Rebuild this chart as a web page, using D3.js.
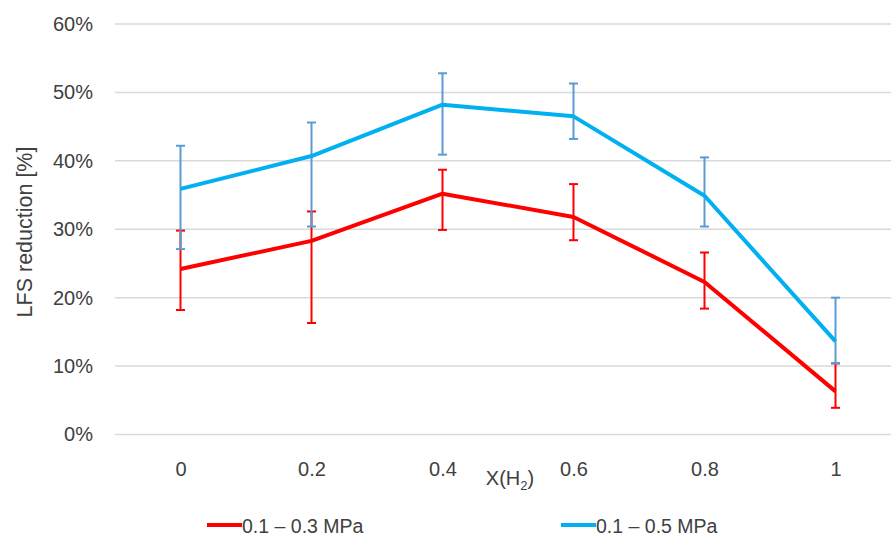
<!DOCTYPE html>
<html>
<head>
<meta charset="utf-8">
<script src="https://cdn.jsdelivr.net/npm/d3@7"></script>
<style>
  html, body { margin: 0; padding: 0; background: #fff; }
  svg { display: block; font-family: "Liberation Sans", "DejaVu Sans", sans-serif; }
</style>
</head>
<body>
<svg id="chart" width="891" height="537"></svg>
<script>
// Hydrogen fraction categories
const categories = ["0", "0.2", "0.4", "0.6", "0.8", "1"];
const yTicks = [0, 0.1, 0.2, 0.3, 0.4, 0.5, 0.6];

// 0.1 – 0.3 MPa series: mean and error-bar bounds
const lowMean  = [0.242, 0.283, 0.352, 0.318, 0.223, 0.063];
const lowUpper = [0.298, 0.326, 0.387, 0.366, 0.266, 0.104];
const lowLower = [0.182, 0.163, 0.299, 0.284, 0.184, 0.039];

// 0.1 – 0.5 MPa series: mean and error-bar bounds
const highMean  = [0.359, 0.407, 0.482, 0.465, 0.349, 0.136];
const highUpper = [0.422, 0.456, 0.528, 0.513, 0.405, 0.200];
const highLower = [0.271, 0.304, 0.409, 0.432, 0.304, 0.104];

const seriesNames = ["0.1 \u2013 0.3 MPa", "0.1 \u2013 0.5 MPa"];

const series = [
  { name: seriesNames[0], mean: lowMean, upper: lowUpper, lower: lowLower,
    line: "#ff0000", bar: "#ff0000" },
  { name: seriesNames[1], mean: highMean, upper: highUpper, lower: highLower,
    line: "#00b0f0", bar: "#5b9bd5" }
];

const svg = d3.select("#chart");
const textColor = "#404040";

const x = d3.scalePoint().domain(categories).range([115, 901]).padding(0.5);
const y = d3.scaleLinear().domain([0, 0.6]).range([434.5, 24]);

// Horizontal gridlines
svg.append("g")
  .selectAll("line")
  .data(yTicks)
  .join("line")
  .attr("x1", 115).attr("x2", 891)
  .attr("y1", d => y(d)).attr("y2", d => y(d))
  .attr("stroke", "#d9d9d9")
  .attr("stroke-width", 1.5);

// Y axis labels
const yAxis = d3.axisLeft(y).tickValues(yTicks).tickFormat(d3.format(".0%")).tickSize(0).tickPadding(0);
svg.append("g")
  .attr("transform", "translate(93,0)")
  .call(yAxis)
  .call(g => g.select(".domain").remove())
  .call(g => g.selectAll("text")
    .attr("fill", textColor)
    .attr("font-size", 20)
    .attr("font-family", "Liberation Sans, sans-serif"));

// X axis labels
const xAxis = d3.axisBottom(x).tickSize(0).tickPadding(0);
svg.append("g")
  .attr("transform", "translate(0,462)")
  .call(xAxis)
  .call(g => g.select(".domain").remove())
  .call(g => g.selectAll("text")
    .attr("fill", textColor)
    .attr("font-size", 20)
    .attr("font-family", "Liberation Sans, sans-serif"));

// Axis titles
svg.append("text")
  .attr("transform", "translate(32,232) rotate(-90)")
  .attr("text-anchor", "middle")
  .attr("fill", textColor)
  .attr("font-size", 21.5)
  .text("LFS reduction [%]");

const xt = svg.append("text")
  .attr("x", 510).attr("y", 485)
  .attr("text-anchor", "middle")
  .attr("fill", textColor)
  .attr("font-size", 20);
xt.append("tspan").text("X(H");
xt.append("tspan").attr("font-size", 13).attr("dy", 5).text("2");
xt.append("tspan").attr("dy", -5).text(")");

// Error bars and lines
const line = d3.line().x((d, i) => x(categories[i])).y(d => y(d));
const cap = 4.5;

series.forEach(s => {
  const g = svg.append("g");
  const idx = d3.range(categories.length);
  g.selectAll("line.stem")
    .data(idx).join("line").attr("class", "stem")
    .attr("x1", i => x(categories[i])).attr("x2", i => x(categories[i]))
    .attr("y1", i => y(s.upper[i])).attr("y2", i => y(s.lower[i]))
    .attr("stroke", s.bar).attr("stroke-width", 2);
  ["upper", "lower"].forEach(k => {
    g.selectAll("line.cap-" + k)
      .data(idx).join("line").attr("class", "cap-" + k)
      .attr("x1", i => x(categories[i]) - cap).attr("x2", i => x(categories[i]) + cap)
      .attr("y1", i => y(s[k][i])).attr("y2", i => y(s[k][i]))
      .attr("stroke", s.bar).attr("stroke-width", 2);
  });
  g.append("path")
    .datum(s.mean)
    .attr("d", line)
    .attr("fill", "none")
    .attr("stroke", s.line)
    .attr("stroke-width", 4)
    .attr("stroke-linejoin", "round");
});

// Legend
const legendX = [207, 561];
series.forEach((s, i) => {
  const g = svg.append("g").attr("transform", `translate(${legendX[i]},525)`);
  g.append("line").attr("x1", 0).attr("x2", 35).attr("y1", 0).attr("y2", 0)
    .attr("stroke", s.line).attr("stroke-width", 4);
  g.append("text").attr("x", 35).attr("y", 7.5)
    .attr("fill", textColor).attr("font-size", 19.5)
    .text(s.name);
});
</script>
</body>
</html>
